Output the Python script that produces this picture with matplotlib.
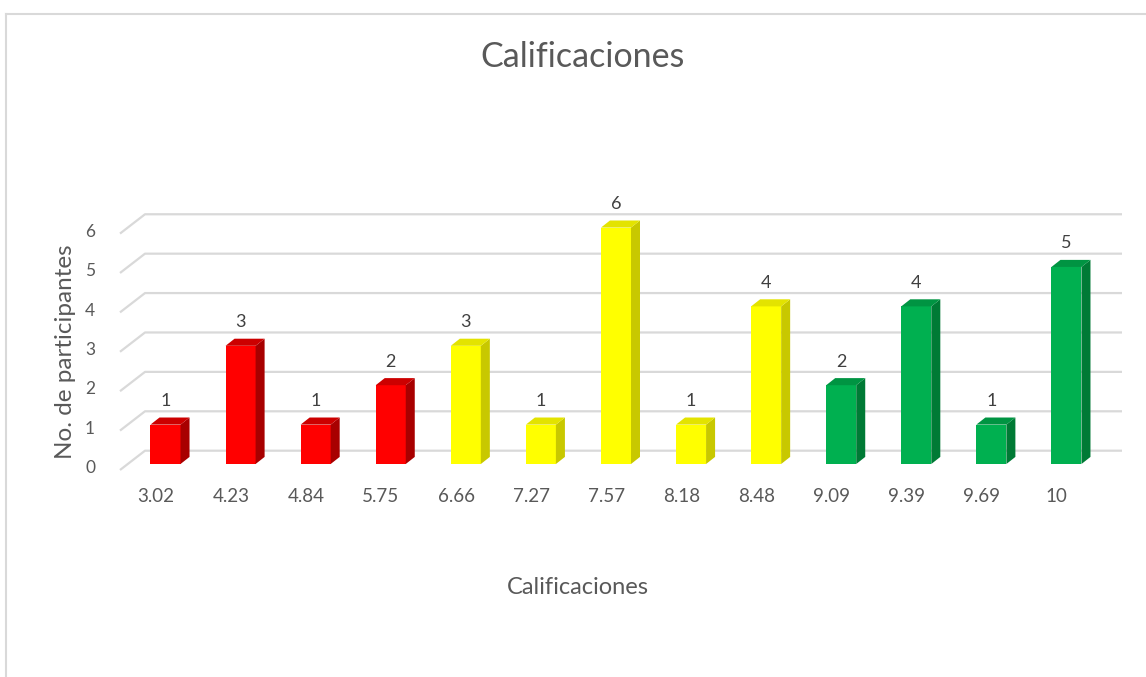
import matplotlib.pyplot as plt
from matplotlib.patches import Polygon
from matplotlib.lines import Line2D

# data
categories = ['3.02', '4.23', '4.84', '5.75', '6.66', '7.27', '7.57',
              '8.18', '8.48', '9.09', '9.39', '9.69', '10']
counts = [1, 3, 1, 2, 3, 1, 6, 1, 4, 2, 4, 1, 5]
groups = ['bajo'] * 4 + ['medio'] * 5 + ['alto'] * 4

# front / side / top colours for the fake 3D bars
palette = {
    'bajo': ('#ff0000', '#a80000', '#cc0000'),
    'medio': ('#ffff00', '#c8c800', '#e3e300'),
    'alto': ('#00b050', '#007a35', '#009442'),
}

FONT = 'Lato'
TXT = '#595959'
GRID = '#d9d9d9'

fig = plt.figure(figsize=(11.46, 6.77), dpi=100)
ax = fig.add_axes([120 / 1146, 1 - 470 / 677, 1002 / 1146, 270 / 677])
ax.set_xlim(-0.606, 12.74)
ax.set_ylim(-0.152, 6.70)

# depth of bars and of the floor (in data units)
bw = 0.40
ddx, ddy = 0.12, 0.18
fx, bx = -0.606, -0.273
fy_off, by_off = -0.152, 0.338

# back wall gridlines + diagonal floor edge
for k in range(7):
    ax.plot([fx, bx, 12.74], [k + fy_off, k + by_off, k + by_off],
            color=GRID, lw=1.6, zorder=1, clip_on=False,
            solid_capstyle='butt')

xs = list(range(len(categories)))
for x, v, g in zip(xs, counts, groups):
    front, side, top = palette[g]
    x0, x1 = x - bw / 2, x + bw / 2
    ax.bar(x, v, width=bw, color=front, zorder=3, linewidth=0)
    ax.add_patch(Polygon([(x1, 0), (x1, v), (x1 + ddx, v + ddy), (x1 + ddx, ddy)],
                         closed=True, facecolor=side, edgecolor='none', zorder=3))
    ax.add_patch(Polygon([(x0, v), (x1, v), (x1 + ddx, v + ddy), (x0 + ddx, v + ddy)],
                         closed=True, facecolor=top, edgecolor='none', zorder=3))
    ax.text(x, v + 0.6, str(v), ha='center', va='center', fontsize=13,
            color='#404040', family=FONT, zorder=4)

ax.set_xticks([x - 0.13 for x in xs])
ax.set_xticklabels(categories)
ax.set_yticks([k - 0.07 for k in range(7)])
ax.set_yticklabels([str(k) for k in range(7)])
ax.tick_params(length=0, labelcolor=TXT)
ax.tick_params(axis='x', pad=13, labelsize=13.5)
ax.tick_params(axis='y', pad=18, labelsize=12.5)
for lab in ax.get_xticklabels() + ax.get_yticklabels():
    lab.set_family(FONT)
for s in ax.spines.values():
    s.set_visible(False)
ax.patch.set_alpha(0)

fig.text(583 / 1146, 1 - 57 / 677, 'Calificaciones', ha='center', va='center',
         fontsize=24.5, color=TXT, family=FONT)
fig.text(578 / 1146, 1 - 587 / 677, 'Calificaciones', ha='center', va='center',
         fontsize=17, color=TXT, family=FONT)
fig.text(65 / 1146, 1 - 352 / 677, 'No. de participantes', ha='center', va='center',
         rotation=90, fontsize=17.5, color=TXT, family=FONT)

# chart area border (cut off at right and bottom)
fig.add_artist(Line2D([6 / 1146, 1], [1 - 14 / 677] * 2, color=GRID, lw=1.5))
fig.add_artist(Line2D([6 / 1146] * 2, [0, 1 - 14 / 677], color=GRID, lw=1.5))

fig.savefig('out.png', dpi=100)
